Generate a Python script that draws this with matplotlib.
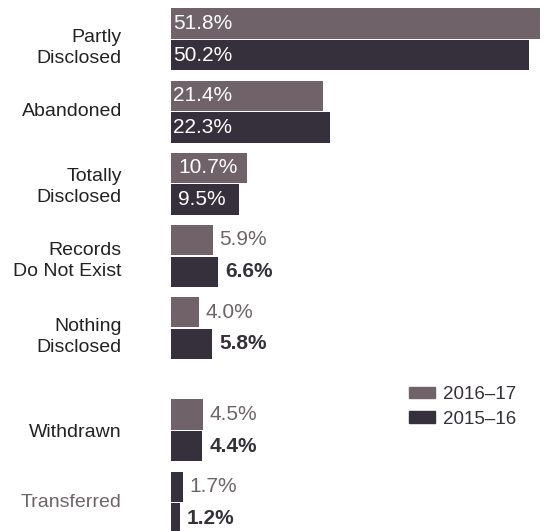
import numpy as np
import matplotlib
matplotlib.use('Agg')
import matplotlib.pyplot as plt
from matplotlib.patches import Patch

plt.rcParams['font.family'] = ['Liberation Sans', 'DejaVu Sans']

# Request outcomes, share of all completed requests
categories = ['Partly\nDisclosed', 'Abandoned', 'Totally\nDisclosed', 'Records\nDo Not Exist',
              'Nothing\nDisclosed', 'Withdrawn', 'Transferred']
share_2016_17 = [51.8, 21.4, 10.7, 5.9, 4.0, 4.5, 1.7]
share_2015_16 = [50.2, 22.3, 9.5, 6.6, 5.8, 4.4, 1.2]
series_names = ['2016\u201317', '2015\u201316']

c_new = '#6f6369'
c_old = '#35303b'
label_dark = '#222222'

# group centres, with a wider gap before the last two groups
ypos = np.arange(len(categories), dtype=float)
ypos[5:] += 0.42
off = 0.22
h = 0.42

fig = plt.figure(figsize=(5.45, 5.31), dpi=100)
ax = fig.add_axes([171 / 545, 0, 1 - 171 / 545, 1])

# the small "Transferred" bar is drawn in the darker shade
new_colors = [c_new] * len(categories)
new_colors[-1] = c_old

ax.barh(ypos - off, share_2016_17, height=h, color=new_colors, align='center')
ax.barh(ypos + off, share_2015_16, height=h, color=c_old, align='center')

ax.set_xlim(0, 52.5)
ax.set_ylim(6.42 + 0.394, -0.546)
ax.axis('off')

fs_val = 15
fs_cat = 14
for i in range(len(categories)):
    v1, v2 = share_2016_17[i], share_2015_16[i]
    if i < 3:
        x_in = 1.0 if i == 2 else 0.3
        ax.text(x_in, ypos[i] - off, f'{v1:.1f}%', color='white', fontsize=fs_val,
                va='center', ha='left')
        ax.text(x_in, ypos[i] + off, f'{v2:.1f}%', color='white', fontsize=fs_val,
                va='center', ha='left')
    else:
        ax.text(v1 + 0.9, ypos[i] - off, f'{v1:.1f}%', color=c_new, fontsize=fs_val,
                va='center', ha='left')
        ax.text(v2 + 1.0, ypos[i] + off, f'{v2:.1f}%', color=c_old, fontsize=fs_val,
                va='center', ha='left', fontweight='bold')

# category labels to the left of the bars
cat_shift = [0.12, 0.0, 0.04, 0.07, 0.13, 0.03, 0.0]
for i, name in enumerate(categories):
    col = c_new if name == 'Transferred' else label_dark
    ax.text(-49 / 7.12, ypos[i] + cat_shift[i], name, ha='right', va='center',
            fontsize=fs_cat, color=col, linespacing=1.3, clip_on=False)

handles = [Patch(color=c_new), Patch(color=c_old)]
fig.legend(handles, series_names, loc='upper left', bbox_to_anchor=(409 / 545, 1 - 386 / 531),
           frameon=False, fontsize=13.5, handlelength=1.39, handleheight=0.55,
           handletextpad=0.43, labelspacing=0.4, labelcolor=c_old, borderaxespad=0,
           borderpad=0)

plt.savefig('out.png', dpi=100)
